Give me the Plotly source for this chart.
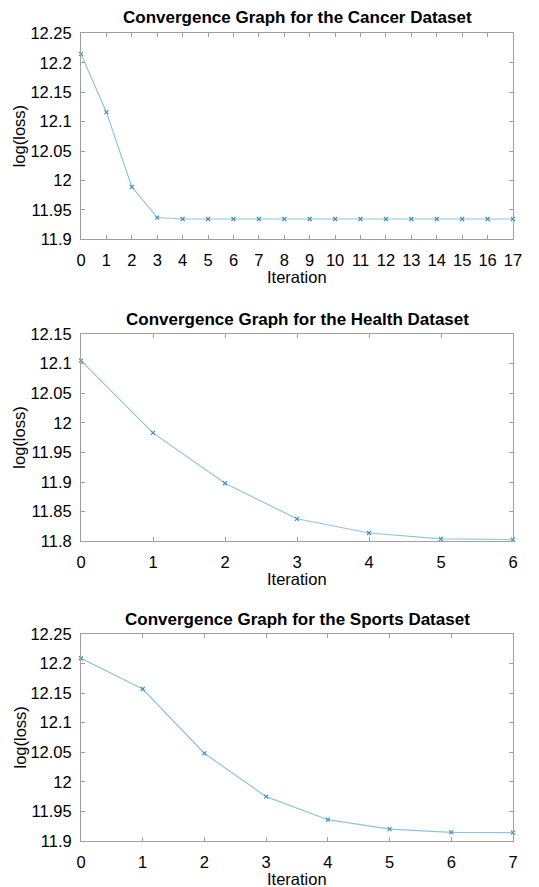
import plotly.graph_objects as go

# ---- data ----
cancer_iter = list(range(18))
cancer_loss = [12.215, 12.116, 11.989, 11.937, 11.9345, 11.9345, 11.9345, 11.9345, 11.9345,
               11.9345, 11.9345, 11.9345, 11.9345, 11.9345, 11.9345, 11.9345, 11.9345, 11.9345]

health_iter = list(range(7))
health_loss = [12.105, 11.983, 11.898, 11.838, 11.814, 11.804, 11.803]

sports_iter = list(range(8))
sports_loss = [12.209, 12.157, 12.048, 11.975, 11.936, 11.920, 11.9145, 11.914]

titles = ["Convergence Graph for the Cancer Dataset",
          "Convergence Graph for the Health Dataset",
          "Convergence Graph for the Sports Dataset"]

cancer_yticks = [11.9, 11.95, 12.0, 12.05, 12.1, 12.15, 12.2, 12.25]
cancer_ytext = ["11.9", "11.95", "12", "12.05", "12.1", "12.15", "12.2", "12.25"]
health_yticks = [11.8, 11.85, 11.9, 11.95, 12.0, 12.05, 12.1, 12.15]
health_ytext = ["11.8", "11.85", "11.9", "11.95", "12", "12.05", "12.1", "12.15"]
sports_yticks = cancer_yticks
sports_ytext = cancer_ytext

# ---- layout geometry (window pixels; page body has an 8px margin) ----
OFF = 8
WIN_W, WIN_H = 539, 887
W, H = WIN_W - OFF, WIN_H - OFF
xl, xr = 81 - OFF, 513 - OFF
panels = [
    dict(top=33.3, bot=239.3, x=cancer_iter, y=cancer_loss, yt=cancer_yticks, ytt=cancer_ytext,
         yr=[11.9, 12.25], xr=[0, 17], title_y=18),
    dict(top=334.0, bot=541.3, x=health_iter, y=health_loss, yt=health_yticks, ytt=health_ytext,
         yr=[11.8, 12.15], xr=[0, 6], title_y=319),
    dict(top=634.0, bot=841.0, x=sports_iter, y=sports_loss, yt=sports_yticks, ytt=sports_ytext,
         yr=[11.9, 12.25], xr=[0, 7], title_y=619),
]

FONT = "Liberation Sans, Arial, Helvetica, sans-serif"
LINE_C = "#8fc4de"
MARK_C = "#3d8cc4"
AX_C = "#a0a0a0"


def py(v):
    return 1 - (v - OFF) / H


fig = go.Figure()
annotations = []
for i, p in enumerate(panels):
    n = "" if i == 0 else str(i + 1)
    fig.add_trace(go.Scatter(
        x=p["x"], y=p["y"], mode="lines+markers",
        line=dict(color=LINE_C, width=1.2),
        marker=dict(symbol="x-thin", size=4, line=dict(color=MARK_C, width=1.1)),
        xaxis="x" + n, yaxis="y" + n, showlegend=False, cliponaxis=False,
    ))
    ydom = [py(p["bot"]), py(p["top"])]
    fig.update_layout(**{
        "xaxis" + n: dict(
            domain=[xl / W, xr / W], range=p["xr"], anchor="y" + n, automargin=False,
            tickmode="array", tickvals=p["x"], ticktext=[str(v) for v in p["x"]],
            ticks="inside", ticklen=4, tickcolor=AX_C, showline=True, linecolor=AX_C,
            linewidth=1, mirror="ticks", showgrid=False, zeroline=False,
            tickfont=dict(family=FONT, size=16.5, color="black"), ticklabelstandoff=6,
        ),
        "yaxis" + n: dict(
            domain=ydom, range=p["yr"], anchor="x" + n, automargin=False,
            tickmode="array", tickvals=p["yt"], ticktext=p["ytt"],
            ticks="inside", ticklen=4, tickcolor=AX_C, showline=True, linecolor=AX_C,
            linewidth=1, mirror="ticks", showgrid=False, zeroline=False,
            tickfont=dict(family=FONT, size=16.5, color="black"), ticklabelstandoff=5,
        ),
    })
    annotations.append(dict(
        text="<b>" + titles[i] + "</b>", xref="paper", yref="paper",
        x=(xl + xr) / 2 / W, y=py(p["title_y"]), xanchor="center", yanchor="middle",
        showarrow=False, font=dict(family=FONT, size=17, color="black")))
    annotations.append(dict(
        text="Iteration", xref="paper", yref="paper",
        x=(xl + xr) / 2 / W, y=py(p["bot"] + 38), xanchor="center", yanchor="middle",
        showarrow=False, font=dict(family=FONT, size=16.5, color="black")))
    annotations.append(dict(
        text="log(loss)", xref="paper", yref="paper", textangle=-90,
        x=(19 - OFF) / W, y=py((p["top"] + p["bot"]) / 2), xanchor="center", yanchor="middle",
        showarrow=False, font=dict(family=FONT, size=16.5, color="black")))

fig.update_layout(
    width=W, height=H, margin=dict(l=0, r=0, t=0, b=0),
    paper_bgcolor="white", plot_bgcolor="white", annotations=annotations,
)

fig.write_html("out.html")
